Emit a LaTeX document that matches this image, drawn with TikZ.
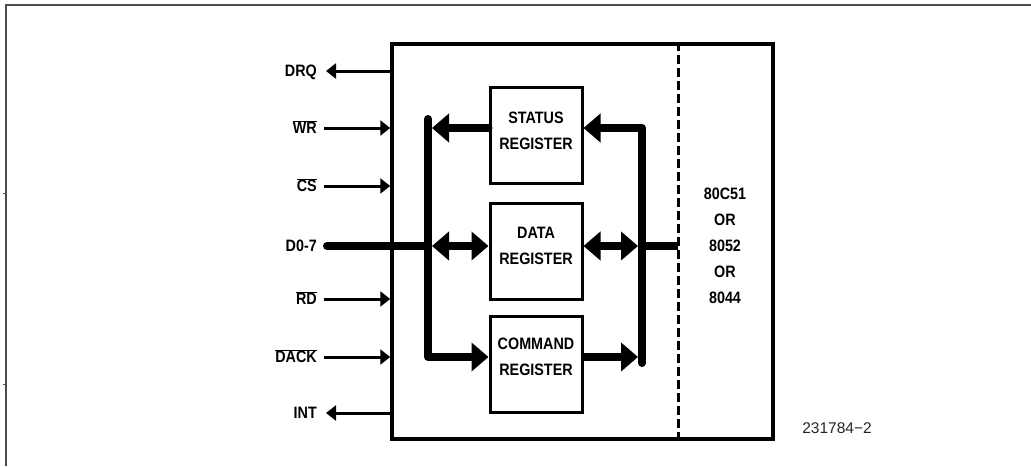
\documentclass[tikz,border=0pt]{standalone}
\usepackage{fontspec}
\setmainfont{Liberation Sans}[FakeStretch=0.87]
\newfontfamily\plainfont{Liberation Sans}
\usetikzlibrary{arrows.meta}
\newcommand{\ovl}[1]{$\overline{\mbox{#1}}$}
\begin{document}
\begin{tikzpicture}[x=1pt,y=-1pt,
  frame/.style={draw=black!70, line width=2pt},
  chipbox/.style={draw, line width=3.5pt, minimum width=381pt, minimum height=395pt, inner sep=0pt},
  regbox/.style={draw, line width=3pt, minimum width=92pt, minimum height=96pt, inner sep=0pt},
  regtext/.style={font=\bfseries\fontsize{16.5}{26}\selectfont, align=center, inner sep=0pt},
  cputext/.style={font=\bfseries\fontsize{16.5}{26}\selectfont, align=center, inner sep=0pt},
  pinlabel/.style={font=\bfseries\fontsize{16.5}{19}\selectfont, anchor=east, inner sep=0pt, text height=11.8pt, text depth=0pt},
  pinarrow/.style={line width=3pt, -{Triangle[length=10pt,width=15pt]}},
  bus/.style={line width=8pt, line cap=round, line join=round},
  busarrow/.style={bus, -{Triangle[length=17pt,width=28pt]}},
  busdouble/.style={line width=8pt, {Triangle[length=17pt,width=28pt]}-{Triangle[length=17pt,width=28pt]}},
  dashline/.style={line width=3pt, dash pattern=on 9pt off 4pt}
]
\useasboundingbox (0,0) rectangle (1031,466);

% outer frame
\draw[frame] (6,466) -- (6,5) -- (1031,5);
\draw[draw=black!70, line width=1pt] (3,193) -- (6,193);
\draw[draw=black!70, line width=1pt] (3,384) -- (6,384);

% chip
\node[chipbox] (chip) at (582.5,241.5) {};
\coordinate (dx) at (678,241.5);
\draw[dashline] (chip.north -| dx) -- (chip.south -| dx);

% registers
\node[regbox] (st) at (536,135) {};
\node[regbox] (dt) at (536,251.5) {};
\node[regbox] (cm) at (536,364.5) {};
\node[regtext] (sttxt) at (536,130.5) {STATUS\\REGISTER};
\node[regtext] (dttxt) at (536,246) {DATA\\REGISTER};
\node[regtext] (cmtxt) at (536,357) {COMMAND\\REGISTER};

% right side text
\node[cputext] (cpu) at (725,246) {80C51\\OR\\8052\\OR\\8044};

% pin labels
\node[pinlabel] (drq) at (317,71) {DRQ};
\node[pinlabel] (wr) at (317,128) {\ovl{WR}};
\node[pinlabel] (cs) at (317,186) {\ovl{CS}};
\node[pinlabel] (d07) at (317,246) {D0-7};
\node[pinlabel] (rd) at (317,299) {\ovl{RD}};
\node[pinlabel] (dack) at (317,357) {\ovl{DACK}};
\node[pinlabel] (int) at (317,413) {INT};

% pin connectors
\draw[pinarrow] (chip.west |- drq.east) -- ([xshift=9pt]drq.east);
\draw[pinarrow] ([xshift=7pt]wr.east) -- (chip.west |- wr.east);
\draw[pinarrow] ([xshift=7pt]cs.east) -- (chip.west |- cs.east);
\draw[pinarrow] ([xshift=7pt]rd.east) -- (chip.west |- rd.east);
\draw[pinarrow] ([xshift=7pt]dack.east) -- (chip.west |- dack.east);
\draw[pinarrow] (chip.west |- int.east) -- ([xshift=9pt]int.east);

% internal buses
\coordinate (lbtop) at (428,119);
\coordinate (lbbot) at (428,357);
\coordinate (rbtop) at (642,128);
\coordinate (rbbot) at (642,363);
\coordinate (sl) at (432,128);
\coordinate (cr) at (638,357);
\coordinate (dl) at (432,246);
\coordinate (drr) at (638,246);

\draw[busarrow] (lbtop) -- (lbbot) -- (cm.west |- lbbot);
\draw[busarrow] (st.west |- sl) -- (sl);
\draw[busarrow] (rbbot) -- (rbtop) -- (st.east |- rbtop);
\draw[line width=8pt, -{Triangle[length=17pt,width=28pt]}] (cm.east |- cr) -- (cr);

\draw[bus] ([xshift=10pt]d07.east) -- (lbtop |- d07.east);
\draw[busdouble] (dl) -- (dt.west |- dl);
\draw[busdouble] (dt.east |- drr) -- (drr);
\draw[line width=8pt] (rbtop |- drr) -- (dx |- drr);

% figure number
\node[font=\plainfont\fontsize{15.5}{19}\selectfont, text=black!85, inner sep=0pt] (fig) at (837,428) {231784−2};
\end{tikzpicture}
\end{document}
